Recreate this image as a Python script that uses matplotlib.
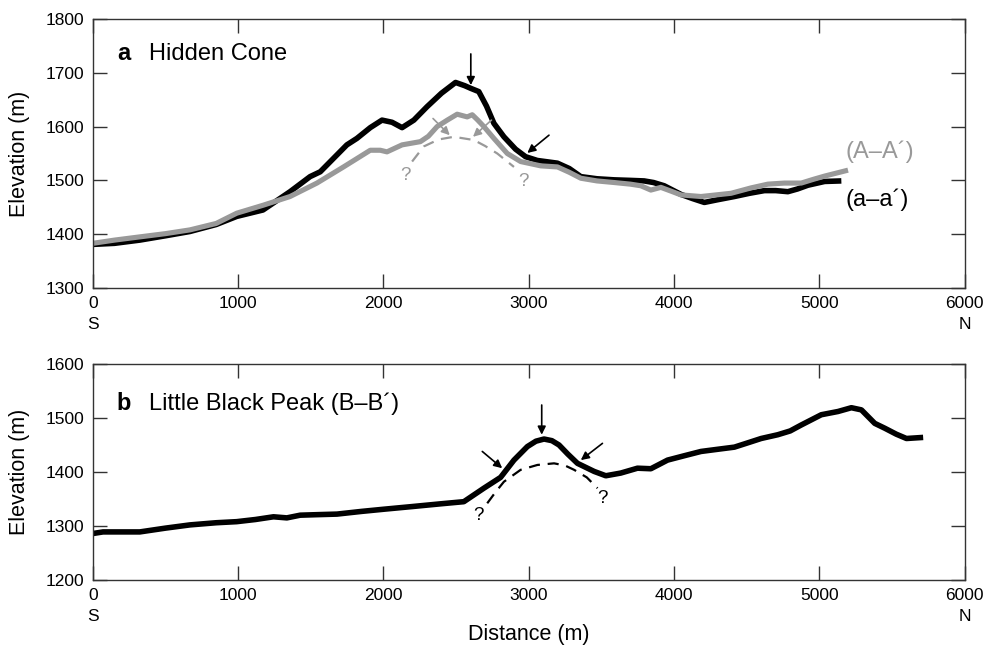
import numpy as np
import matplotlib.pyplot as plt

plt.rcParams['font.family'] = ['Liberation Sans', 'DejaVu Sans']

# panel a: Hidden Cone, black profile (a-a')
a_dist = [0, 150, 324, 500, 669, 850, 991, 1172, 1358, 1496, 1566, 1749, 1818, 1910,
          1991, 2060, 2129, 2210, 2301, 2400, 2497, 2560, 2602, 2657, 2710, 2761, 2830,
          2910, 2979, 3060, 3198, 3280, 3359, 3470, 3589, 3700, 3795, 3860, 3933, 4048,
          4130, 4209, 4300, 4416, 4520, 4623, 4700, 4784, 4850, 4922, 5037, 5152]
a_elev = [1381, 1383, 1389, 1397, 1405, 1418, 1433, 1445, 1479, 1507, 1516, 1566, 1578,
          1598, 1612, 1608, 1598, 1612, 1637, 1662, 1682, 1676, 1671, 1665, 1638, 1606,
          1581, 1558, 1544, 1537, 1532, 1522, 1507, 1503, 1501, 1500, 1499, 1496, 1490,
          1474, 1466, 1459, 1464, 1470, 1476, 1481, 1481, 1479, 1484, 1491, 1498, 1499]

# panel a: grey profile (A-A')
A_dist = [0, 150, 324, 500, 669, 850, 991, 1175, 1358, 1543, 1726, 1910, 1979, 2025,
          2129, 2255, 2310, 2370, 2440, 2508, 2577, 2612, 2650, 2692, 2761, 2853, 2945,
          3083, 3198, 3280, 3359, 3470, 3589, 3700, 3772, 3841, 3910, 3980, 4048, 4186,
          4393, 4530, 4646, 4760, 4876, 4960, 5037, 5198]
A_elev = [1383, 1389, 1395, 1401, 1408, 1420, 1439, 1454, 1470, 1495, 1525, 1556, 1556,
          1553, 1566, 1572, 1582, 1600, 1612, 1623, 1618, 1622, 1612, 1600, 1578, 1550,
          1535, 1527, 1525, 1515, 1504, 1499, 1496, 1493, 1490, 1482, 1487, 1480, 1473,
          1470, 1476, 1486, 1493, 1495, 1495, 1502, 1508, 1519]

# panel a: inferred buried cone (dashed)
Ad_dist = [2198, 2278, 2380, 2485, 2623, 2700, 2784, 2899]
Ad_elev = [1535, 1563, 1576, 1581, 1575, 1564, 1550, 1525]

# panel b: Little Black Peak (B-B')
b_dist = [0, 71, 200, 324, 500, 669, 850, 991, 1120, 1244, 1336, 1428, 1550, 1681,
          1850, 2002, 2200, 2393, 2554, 2692, 2807, 2899, 2991, 3050, 3106, 3160, 3209,
          3270, 3336, 3451, 3531, 3634, 3749, 3841, 3956, 4070, 4186, 4300, 4416, 4520,
          4600, 4715, 4800, 4876, 5014, 5129, 5221, 5290, 5382, 5451, 5530, 5600, 5715]
b_elev = [1286, 1289, 1289, 1289, 1296, 1302, 1306, 1308, 1312, 1317, 1315, 1320, 1321,
          1322, 1327, 1331, 1336, 1341, 1345, 1370, 1390, 1422, 1447, 1457, 1461, 1458,
          1450, 1433, 1416, 1401, 1393, 1398, 1407, 1406, 1422, 1430, 1438, 1442, 1446,
          1455, 1462, 1469, 1476, 1487, 1506, 1512, 1519, 1515, 1490, 1481, 1470, 1462, 1464]

Bd_dist = [2715, 2770, 2830, 2945, 3060, 3175, 3250, 3313, 3400, 3474]
Bd_elev = [1342, 1362, 1382, 1404, 1413, 1416, 1412, 1404, 1390, 1370]

x_ticks = [0, 1000, 2000, 3000, 4000, 5000, 6000]
x_labels = ['0\nS', '1000', '2000', '3000', '4000', '5000', '6000\nN']

grey = '#999999'
spine = '#333333'

fig = plt.figure(figsize=(9.98, 6.45), dpi=100)
ax1 = fig.add_axes([0.0929, 0.5535, 0.8736, 0.4171])
ax2 = fig.add_axes([0.0929, 0.1008, 0.8736, 0.3349])


def style(ax, ylim, yticks):
    ax.set_xlim(0, 6000)
    ax.set_ylim(*ylim)
    ax.set_xticks(x_ticks)
    ax.set_xticklabels(x_labels, linespacing=1.45)
    ax.set_yticks(yticks)
    ax.tick_params(direction='in', length=10, width=1, color=spine, top=True, right=True,
                   labelsize=12.5, pad=6)
    for s in ax.spines.values():
        s.set_color(spine)
        s.set_linewidth(1)
    ax.set_ylabel('Elevation (m)', fontsize=15.5)
    ax.yaxis.set_label_coords(-0.072, 0.5)


style(ax1, (1300, 1800), [1300, 1400, 1500, 1600, 1700, 1800])
style(ax2, (1200, 1600), [1200, 1300, 1400, 1500, 1600])

arrow = dict(arrowstyle='-|>', color='black', lw=1.2, mutation_scale=12,
             shrinkA=0, shrinkB=0)
garrow = dict(arrowstyle='-|>', color=grey, lw=1.2, mutation_scale=12,
              shrinkA=0, shrinkB=0)

# panel a
ax1.annotate('', xy=(2457, 1584), xytext=(2342, 1615), arrowprops=garrow)
ax1.annotate('', xy=(2617, 1581), xytext=(2744, 1612), arrowprops=garrow)
ax1.plot(Ad_dist, Ad_elev, color=grey, lw=1.6, dashes=(5, 3.5))
ax1.plot(a_dist, a_elev, color='black', lw=4.0, solid_joinstyle='round',
         solid_capstyle='butt')
ax1.plot(A_dist, A_elev, color=grey, lw=3.7, solid_joinstyle='round',
         solid_capstyle='butt')
ax1.annotate('', xy=(2602, 1677), xytext=(2602, 1735), arrowprops=arrow)
ax1.annotate('', xy=(2991, 1551), xytext=(3140, 1584), arrowprops=arrow)
ax1.text(2152, 1510, '?', color=grey, fontsize=13.5, ha='center', va='center')
ax1.text(2963, 1498, '?', color=grey, fontsize=13.5, ha='center', va='center')
ax1.text(5180, 1553, '(A–A´)', color=grey, fontsize=17, va='center')
ax1.text(5180, 1464, '(a–a´)', color='black', fontsize=17, va='center')
ax1.text(166, 1735, 'a', fontsize=17, fontweight='bold', va='center')
ax1.text(386, 1735, 'Hidden Cone', fontsize=17, va='center')

# panel b
ax2.plot(Bd_dist, Bd_elev, color='black', lw=1.6, dashes=(5, 3.5))
ax2.plot(b_dist, b_elev, color='black', lw=4.0, solid_joinstyle='round',
         solid_capstyle='butt')
ax2.annotate('', xy=(2818, 1407), xytext=(2681, 1438), arrowprops=arrow)
ax2.annotate('', xy=(3090, 1469), xytext=(3090, 1524), arrowprops=arrow)
ax2.annotate('', xy=(3359, 1422), xytext=(3508, 1453), arrowprops=arrow)
ax2.text(2657, 1320, '?', color='black', fontsize=13.5, ha='center', va='center')
ax2.text(3508, 1351, '?', color='black', fontsize=13.5, ha='center', va='center')
ax2.text(166, 1526, 'b', fontsize=17, fontweight='bold', va='center')
ax2.text(386, 1526, 'Little Black Peak (B–B´)', fontsize=17, va='center')
ax2.set_xlabel('Distance (m)', fontsize=15.5, labelpad=0)

fig.savefig('out.png', dpi=100)
